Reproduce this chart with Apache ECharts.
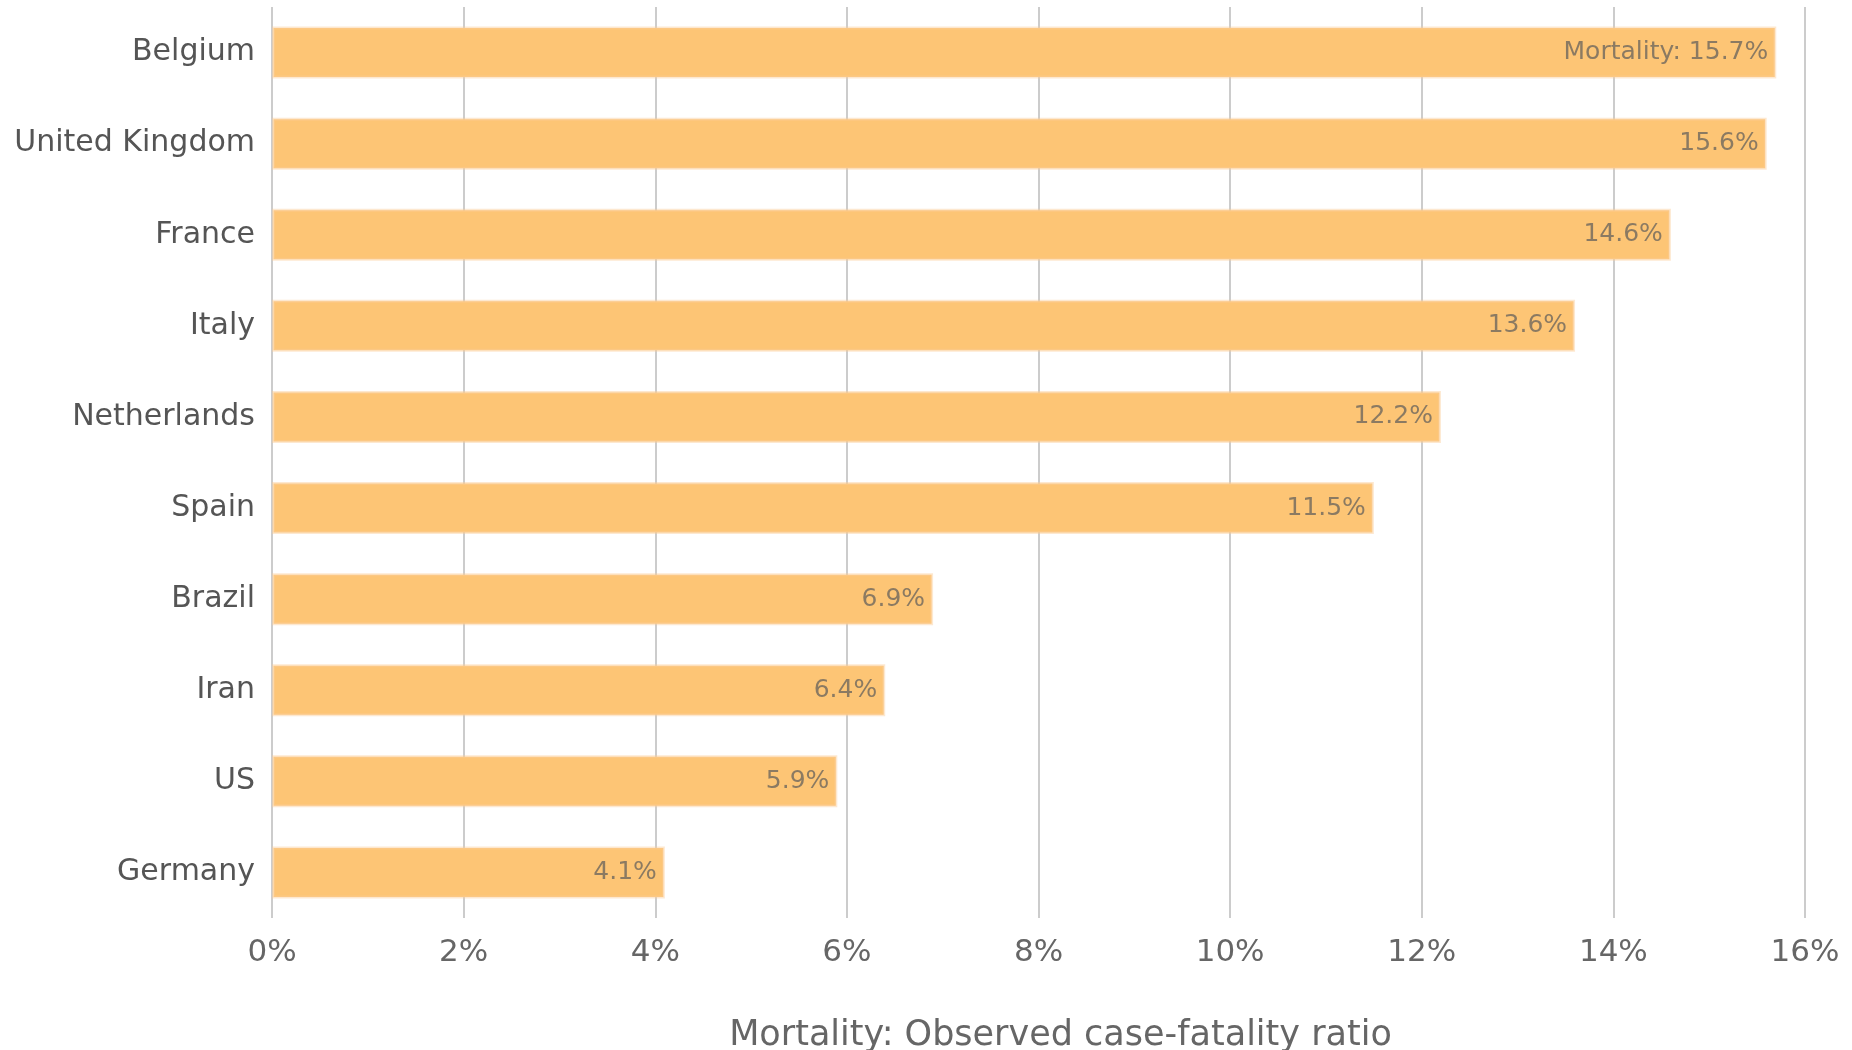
<!DOCTYPE html>
<html>
<head>
<meta charset="utf-8">
<style>html,body{margin:0;padding:0;background:#fff;}#chart{width:1852px;height:1050px;}</style>
<script src="https://cdn.jsdelivr.net/npm/echarts@6/dist/echarts.min.js"></script>
</head>
<body>
<div id="chart"></div>
<script>
const countries = ['Belgium','United Kingdom','France','Italy','Netherlands','Spain','Brazil','Iran','US','Germany'];
const mortality = [15.7, 15.6, 14.6, 13.6, 12.2, 11.5, 6.9, 6.4, 5.9, 4.1];
const xTicks = [0, 2, 4, 6, 8, 10, 12, 14, 16];
const axisTitle = 'Mortality: Observed case-fatality ratio';

const chart = echarts.init(document.getElementById('chart'));
const font = 'DejaVu Sans';
chart.setOption({
  animation: false,
  grid: {left: 272, right: 47, top: 7, bottom: 132, outerBoundsMode: 'none', containLabel: false},
  xAxis: {
    type: 'value', min: xTicks[0], max: xTicks[xTicks.length-1], interval: 2,
    axisLine: {show: false}, axisTick: {show: false},
    splitLine: {show: true, lineStyle: {color: '#cccccc', width: 2}},
    axisLabel: {formatter: v => v + '%', color: '#666', fontSize: 31, fontFamily: font, margin: 19},
    name: axisTitle, nameLocation: 'middle', nameGap: 100,
    nameTextStyle: {color: '#666', fontSize: 35, fontFamily: font, padding: [0, 0, 0, 44]}
  },
  yAxis: {
    type: 'category', data: countries, inverse: true,
    axisLine: {show: false}, axisTick: {show: false},
    axisLabel: {color: '#555', fontSize: 30, fontFamily: font, margin: 17, padding: [5, 0, 0, 0]}
  },
  series: [{
    type: 'bar', data: mortality, barWidth: 52,
    itemStyle: {color: '#fdc575', borderColor: 'rgba(250,205,150,0.45)', borderWidth: 3},
    label: {
      show: true, position: 'insideRight', distance: 8,
      color: 'rgba(90,90,90,0.7)', fontSize: 25, fontFamily: font,
      formatter: p => (p.dataIndex === 0 ? 'Mortality: ' : '') + p.value.toFixed(1) + '%'
    }
  }]
});
</script>
</body>
</html>
